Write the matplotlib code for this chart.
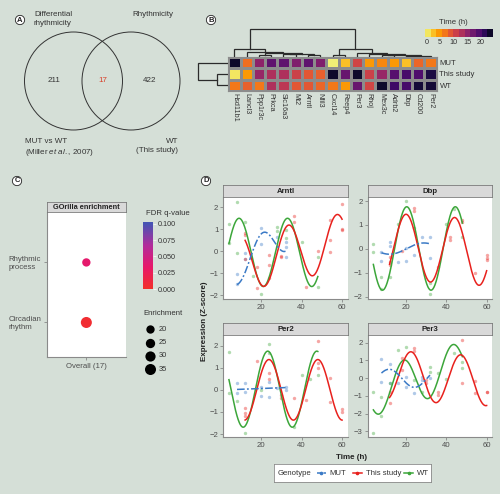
import numpy as np
import matplotlib
matplotlib.use('Agg')
import matplotlib.pyplot as plt
from matplotlib.patches import Circle
from matplotlib.colors import ListedColormap, LinearSegmentedColormap, Normalize

plt.rcParams['font.family'] = ['Liberation Sans', 'DejaVu Sans']
plt.rcParams['mathtext.fontset'] = 'custom'
plt.rcParams['mathtext.it'] = 'Liberation Sans:italic'
plt.rcParams['mathtext.rm'] = 'Liberation Sans'

W, H = 500, 494
BG = '#d5dfd7'
TXT = '#333333'
TICK = '#4d4d4d'

# ---- A: Venn counts (left only, overlap, right only)
venn_counts = [211, 17, 422]

# ---- B: peak time (h) per gene and group
genes = ['Hsd11b1', 'Lancl3', 'Ppp1r3c', 'Prkca', 'Slc16a3', 'Mt2', 'Arntl', 'Nfil3',
         'Cxcl14', 'Reep4', 'Per3', 'Rhoj', 'Mex3c', 'Adrb2', 'Dbp', 'Cd200', 'Per2']
groups = ['MUT', 'This study', 'WT']
peak_mut = [23, 7.5, 15, 18, 18, 16, 18, 16, 0.5, 3, 10.5, 5, 6, 5, 3, 8, 7]
peak_this = [1, 5, 14.5, 13, 13, 11, 9, 8.5, 23, 17.5, 23, 11, 14.5, 18.5, 19.5, 19, 22]
peak_wt = [7, 8.5, 7, 13, 12, 9, 9, 8, 7, 5, 17.5, 10.5, 23, 20, 19.5, 22.5, 22.5]
# dendrogram merges (child a, child b, height); new nodes numbered after leaves
col_merges = [(4, 5, 0.10), (6, 7, 0.07), (2, 3, 0.08), (17, 18, 0.12), (19, 20, 0.14),
              (1, 21, 0.17), (0, 22, 0.28), (8, 9, 0.08), (14, 15, 0.04), (25, 16, 0.06),
              (12, 13, 0.07), (27, 26, 0.09), (11, 28, 0.11), (10, 29, 0.15), (24, 30, 0.28),
              (23, 31, 1.0)]
row_merges = [(1, 2, 0.37), (0, 3, 1.0)]

# ---- C: GOrilla enrichment
go_terms = ['Circadian\nrhythm', 'Rhythmic\nprocess']
go_fdr = [0.004, 0.035]
go_enrich = [35, 20]
enrich_legend = [20, 25, 30, 35]

# ---- D: expression (Z-score) points, (time, value)
arntl_mut = [(8, -1.03), (8, -1.5), (12, -0.09), (12, -0.35), (20, 1.05), (20, 0.32),
             (28, 0.67), (32, 0.44), (32, -0.24), (32, 0.21)]
arntl_this = [(12, 0.82), (12, 0.74), (12, -0.35), (18, -0.7), (18, -1.68), (24, -0.17),
              (24, -0.62), (24, -1.23), (30, -0.21), (30, -0.26), (36, 1.62), (36, 1.35),
              (42, -1.64), (48, 0.0), (54, 1.42), (54, 0.51), (54, -0.05), (60, 2.14),
              (60, 1.0), (60, 0.95)]
arntl_wt = [(4, 1.23), (4, 0.36), (8, 2.26), (8, -0.06), (12, 1.35), (16, -1.1),
            (20, -1.96), (28, 1.12), (28, 0.9), (32, 0.6), (32, 0.97), (40, 0.41),
            (48, -0.24), (48, -1.6)]
dbp_mut = [(8, -0.5), (8, -0.14), (12, 0.31), (12, 0.14), (16, -0.53), (20, -0.49),
           (20, 0.06), (24, -0.25), (28, 0.51), (32, 0.51), (32, -0.39)]
dbp_this = [(12, -0.32), (12, -0.53), (12, -0.67), (18, -0.1), (24, 1.69), (24, 1.58),
            (36, -0.74), (42, 0.51), (42, 0.38), (48, 1.21), (48, 1.14), (54, -1.01),
            (60, -0.25), (60, -0.36), (60, -0.45)]
dbp_wt = [(4, 0.2), (4, -0.14), (8, -1.15), (8, -1.68), (12, -1.15), (16, 1.03),
          (20, 2.0), (24, 0.86), (32, -1.87), (32, -1.43), (40, 1.03), (44, 1.67),
          (48, 0.51)]
per2_mut = [(8, 0.3), (8, -0.16), (12, 0.32), (12, -0.08), (20, 0.14), (20, -0.28),
            (24, 0.37), (24, -0.31), (28, 0.07), (32, 0.14), (32, 0.0)]
per2_this = [(12, -0.84), (12, -1.03), (12, -1.2), (18, 1.32), (24, 0.78), (24, 0.5),
             (30, -0.23), (30, -0.35), (36, -0.38), (42, -0.46), (48, 2.21), (48, 1.2),
             (48, 1.0), (54, 0.52), (54, -0.54), (60, -0.88), (60, -0.99)]
per2_wt = [(4, 1.7), (4, -0.16), (8, -0.49), (12, -1.97), (20, 0.0), (24, 2.08),
           (24, 1.65), (36, -1.7), (40, 0.67), (44, 0.48), (48, 0.67)]
per3_mut = [(8, 1.08), (8, -0.2), (12, 0.8), (12, -0.29), (16, -0.29), (20, 0.08),
            (20, -0.48), (24, -0.82), (28, 0.08), (28, -0.1), (32, -0.01)]
per3_this = [(12, -0.76), (12, -1.42), (18, 1.12), (18, 0.46), (24, 1.68), (24, 1.53),
             (30, -0.11), (30, -0.29), (36, -0.76), (36, -0.95), (48, 2.15), (48, -0.29),
             (54, -0.16), (54, -0.86), (60, -0.76), (60, -0.8)]
per3_wt = [(4, -0.76), (4, -3.11), (8, -1.05), (8, -2.14), (12, -0.29), (16, 1.59),
           (20, 1.77), (24, -0.11), (28, -0.76), (32, 0.61), (32, 0.36), (36, 0.27),
           (40, -0.07), (44, 1.4), (48, 0.93), (48, 0.55)]

# fitted rhythms: (mesor, trend per h, amplitude, acrophase h, period h, start h, end h)
fit_arntl = {'MUT': (-1.24, 0.063, 0.78, 20.5, 24, 8, 32),
             'This study': (-0.75, 0.02, 1.27, 33.5, 24, 12, 60),
             'WT': (-0.05, 0.0, 1.55, 9.0, 24, 4, 48)}
fit_dbp = {'MUT': (0.015, 0.0, 0.235, 29.0, 34, 8, 32),
           'This study': (0.18, -0.0056, 1.38, 20.2, 24, 12, 60),
           'WT': (0.02, 0.0, 1.74, 20.5, 24, 4, 48)}
fit_per2 = {'MUT': (-0.01, 0.0035, 0.0, 20.0, 24, 8, 32),
            'This study': (0.0, 0.0, 1.37, 23.8, 24.2, 12, 60),
            'WT': (0.03, 0.0, 1.72, 23.2, 24.3, 4, 48)}
fit_per3 = {'MUT': (-0.01, 0.0, 0.51, 11.8, 25, 8, 32),
            'This study': (0.25, -0.0069, 1.39, 22.6, 24.6, 12, 60),
            'WT': (-0.97, 0.036, 1.3, 19.0, 24.3, 4, 48)}

geno_colors = {'MUT': '#3b7ac6', 'This study': '#e8211d', 'WT': '#3ca63a'}

fig = plt.figure(figsize=(W / 100, H / 100), dpi=100, facecolor=BG)


def px_axes(x0, y0, x1, y1):
    return fig.add_axes([x0 / W, 1 - y1 / H, (x1 - x0) / W, (y1 - y0) / H])


def panel_letter(x, y, s):
    fig.text(x / W, 1 - y / H, s, ha='center', va='center', fontsize=5.5, fontweight='bold',
             color='#222222',
             bbox=dict(boxstyle='circle,pad=0.15', fc='white', ec='#222222', lw=0.6))


# ================= A: Venn
axA = px_axes(0, 0, 200, 170)
axA.set_xlim(0, 200)
axA.set_ylim(170, 0)
axA.axis('off')
axA.add_patch(Circle((73.5, 81), 49, fill=False, ec='#333333', lw=0.7))
axA.add_patch(Circle((131, 81), 49, fill=False, ec='#333333', lw=0.7))
axA.text(54, 80, str(venn_counts[0]), ha='center', va='center', fontsize=5.8, color=TXT)
axA.text(103, 80, str(venn_counts[1]), ha='center', va='center', fontsize=5.8, color='#d8402a')
axA.text(150, 80, str(venn_counts[2]), ha='center', va='center', fontsize=5.8, color=TXT)
axA.text(34, 11.5, 'Differential\nrhythmicity', ha='left', va='top', fontsize=5.8, color=TXT,
         linespacing=1.3)
axA.text(132.5, 11.5, 'Rhythmicity', ha='left', va='top', fontsize=5.8, color=TXT)
axA.text(25, 138, 'MUT vs WT\n(Miller $\\mathit{et\\ al.}$, 2007)', ha='left', va='top',
         fontsize=5.8, color=TXT, linespacing=1.35)
axA.text(178, 138, 'WT\n(This study)', ha='right', va='top', fontsize=5.8, color=TXT,
         multialignment='right', linespacing=1.35)
panel_letter(20, 20, 'A')

# ================= B: heatmap + dendrograms
cmap_t = ListedColormap(plt.cm.inferno(np.linspace(0.97, 0.04, 256)))
norm_t = Normalize(0, 24)
mat = np.array([peak_mut, peak_this, peak_wt])

axH = px_axes(228.3, 57.3, 436.7, 90.7)
axH.pcolormesh(mat, cmap=cmap_t, norm=norm_t, edgecolors='#8c8c8c', linewidth=0.8)
axH.set_xlim(0, len(genes))
axH.set_ylim(len(groups), 0)
axH.set_xticks(np.arange(len(genes)) + 0.5)
axH.set_xticklabels(genes, rotation=-90, fontsize=5.2, color=TXT)
axH.set_yticks(np.arange(len(groups)) + 0.5)
axH.set_yticklabels(groups, fontsize=5.6, color=TXT)
axH.yaxis.tick_right()
axH.tick_params(length=0, pad=2)
for s in axH.spines.values():
    s.set_color('#8c8c8c')
    s.set_linewidth(0.8)


def draw_dendro(ax, merges, n_leaves, horizontal):
    pos = {i: (i + 0.5, 0.0) for i in range(n_leaves)}
    for k, (a, b, h) in enumerate(merges):
        xa, ha = pos[a]
        xb, hb = pos[b]
        if horizontal:
            ax.plot([ha, h, h, hb], [xa, xa, xb, xb], color='#2b2b2b', lw=0.9,
                    solid_joinstyle='miter')
        else:
            ax.plot([xa, xa, xb, xb], [ha, h, h, hb], color='#2b2b2b', lw=0.9,
                    solid_joinstyle='miter')
        pos[n_leaves + k] = ((xa + xb) / 2, h)


axDc = px_axes(228.3, 28, 436.7, 57.3)
draw_dendro(axDc, col_merges, len(genes), False)
axDc.set_xlim(0, len(genes))
axDc.set_ylim(0, 1.02)
axDc.axis('off')

axDr = px_axes(197, 57.3, 228.3, 90.7)
draw_dendro(axDr, row_merges, len(groups), True)
axDr.set_xlim(1.02, 0)
axDr.set_ylim(len(groups), 0)
axDr.axis('off')

axCB = px_axes(425, 29.3, 492.7, 37.3)
axCB.imshow((np.arange(12) * 2 + 1)[None, :], cmap=cmap_t, norm=norm_t, aspect='auto',
            extent=(-0.6, 24.4, 0, 1))
axCB.set_xlim(-0.6, 24.4)
axCB.set_yticks([])
axCB.set_xticks([0, 5, 10, 15, 20])
axCB.tick_params(axis='x', length=0, pad=1.5, labelsize=5.2, labelcolor=TXT)
for s in axCB.spines.values():
    s.set_visible(False)
fig.text(439 / W, 1 - 22 / H, 'Time (h)', ha='left', va='center', fontsize=5.6, color=TXT)
panel_letter(211, 20, 'B')

# ================= C: GO enrichment bubble
cmap_q = LinearSegmentedColormap.from_list('q', ['#f2302a', '#e8186a', '#b22c9c', '#4754b4'])
axC = px_axes(46.7, 212, 126, 357.3)
axC.set_facecolor('white')
axC.scatter([1] * len(go_terms), np.arange(1, len(go_terms) + 1),
            s=np.array(go_enrich) * 1.8, c=go_fdr, cmap=cmap_q, vmin=0, vmax=0.1,
            linewidths=0, zorder=3)
axC.set_xlim(0.4, 1.6)
axC.set_ylim(0.42, 2.84)
axC.set_yticks(np.arange(1, len(go_terms) + 1))
axC.set_yticklabels(go_terms, fontsize=5.6, color=TICK, multialignment='left')
axC.set_xticks([1])
axC.set_xticklabels(['Overall (17)'], fontsize=5.6, color=TICK)
axC.tick_params(length=2, width=0.5, color='#777777', pad=2)
for side in ('top', 'right'):
    axC.spines[side].set_visible(False)
for side in ('left', 'bottom'):
    axC.spines[side].set_color('#8a8a8a')
    axC.spines[side].set_linewidth(0.8)

axCs = px_axes(46.7, 201.7, 126, 212)
axCs.set_facecolor('#d9d9d9')
axCs.set_xticks([])
axCs.set_yticks([])
for s in axCs.spines.values():
    s.set_color('#7a7a7a')
    s.set_linewidth(0.6)
axCs.text(0.5, 0.48, 'GOrilla enrichment', ha='center', va='center', fontsize=5.3,
          fontweight='bold', color='#222222', transform=axCs.transAxes)

axQ = px_axes(142.7, 221.7, 152.7, 289)
axQ.imshow(np.linspace(0, 0.1035, 100)[:, None], cmap=cmap_q, vmin=0, vmax=0.1,
           aspect='auto', origin='lower', extent=(0, 1, 0, 0.1035))
axQ.set_ylim(0, 0.1035)
axQ.set_xticks([])
axQ.yaxis.tick_right()
axQ.set_yticks([0, 0.025, 0.05, 0.075, 0.1])
axQ.set_yticklabels(['0.000', '0.025', '0.050', '0.075', '0.100'])
axQ.tick_params(axis='y', length=2, width=0.5, color='white', pad=1.5, labelsize=5.2,
                labelcolor=TXT)
for s in axQ.spines.values():
    s.set_visible(False)
fig.text(146 / W, 1 - 213 / H, 'FDR q-value', ha='left', va='center', fontsize=5.6, color=TXT)

axE = px_axes(140, 320, 200, 376)
axE.set_xlim(140, 200)
axE.set_ylim(376, 320)
axE.axis('off')
fig.text(143 / W, 1 - 313.5 / H, 'Enrichment', ha='left', va='center', fontsize=5.6, color=TXT)
for i, e in enumerate(enrich_legend):
    yy = 329.3 + i * 13.3
    axE.scatter([150], [yy], s=e * 1.8, color='black', linewidths=0)
    axE.text(159, yy, str(e), ha='left', va='center', fontsize=5.4, color=TXT)
panel_letter(17, 181, 'C')

# ================= D: time courses
facets = [('Arntl', arntl_mut, arntl_this, arntl_wt, fit_arntl, (223.3, 196.7, 347.7, 299.3),
           (-2.18, 2.48), [-2, -1, 0, 1, 2]),
          ('Dbp', dbp_mut, dbp_this, dbp_wt, fit_dbp, (367.7, 196.7, 492.3, 299.3),
           (-2.1, 2.18), [-2, -1, 0, 1, 2]),
          ('Per2', per2_mut, per2_this, per2_wt, fit_per2, (223.3, 335, 347.7, 436.7),
           (-2.12, 2.48), [-2, -1, 0, 1, 2]),
          ('Per3', per3_mut, per3_this, per3_wt, fit_per3, (367.7, 335, 492.3, 436.7),
           (-3.3, 2.43), [-3, -2, -1, 0, 1, 2])]

for name, pm, pt, pw, fit, box, ylim, yt in facets:
    x0, y0, x1, y1 = box
    ax = px_axes(x0, y0, x1, y1)
    ax.set_facecolor('white')
    for geno, pts in (('MUT', pm), ('This study', pt), ('WT', pw)):
        arr = np.array(pts)
        ax.scatter(arr[:, 0], arr[:, 1], s=6, color=geno_colors[geno], alpha=0.4,
                   linewidths=0, zorder=2)
    for geno in ('WT', 'This study', 'MUT'):
        m0, m1, amp, phi, per, t0, t1 = fit[geno]
        t = np.linspace(t0, t1, 300)
        y = m0 + m1 * t + amp * np.cos(2 * np.pi * (t - phi) / per)
        ls = (0, (5, 1.5, 1.2, 1.5)) if geno == 'MUT' else '-'
        ax.plot(t, y, color=geno_colors[geno], lw=1.1, ls=ls, zorder=3)
    ax.set_xlim(1.2, 62.8)
    ax.set_ylim(*ylim)
    ax.set_xticks([20, 40, 60])
    ax.set_yticks(yt)
    ax.tick_params(length=2, width=0.5, color='#777777', pad=1.5, labelsize=5.6,
                   labelcolor=TICK)
    for side in ('top', 'right'):
        ax.spines[side].set_visible(False)
    for side in ('left', 'bottom'):
        ax.spines[side].set_color('#8a8a8a')
        ax.spines[side].set_linewidth(0.8)
    axs = px_axes(x0, y0 - 11.7, x1, y0)
    axs.set_facecolor('#d9d9d9')
    axs.set_xticks([])
    axs.set_yticks([])
    for s in axs.spines.values():
        s.set_color('#7a7a7a')
        s.set_linewidth(0.6)
    axs.text(0.5, 0.45, name, ha='center', va='center', fontsize=5.6, fontweight='bold',
             color='#222222', transform=axs.transAxes)

fig.text(352 / W, 1 - 457 / H, 'Time (h)', ha='center', va='center', fontsize=5.8,
         fontweight='bold', color='#222222')
fig.text(204 / W, 1 - 321 / H, 'Expression (Z-score)', ha='center', va='center', fontsize=5.8,
         fontweight='bold', color='#222222', rotation=90)

axL = px_axes(274, 464.3, 431, 481.7)
axL.set_facecolor('white')
axL.set_xlim(274, 431)
axL.set_ylim(481.7, 464.3)
axL.set_xticks([])
axL.set_yticks([])
for s in axL.spines.values():
    s.set_color('#8a8a8a')
    s.set_linewidth(0.6)
axL.text(277.5, 473, 'Genotype', ha='left', va='center', fontsize=5.6, color=TXT)
for (sx, lx, geno) in ((316.5, 329, 'MUT'), (352.5, 365.5, 'This study'), (404, 417, 'WT')):
    ls = (0, (3, 1.2)) if geno == 'MUT' else '-'
    axL.plot([sx, sx + 9], [473, 473], color=geno_colors[geno], lw=1.1, ls=ls)
    axL.plot([sx + 4.5], [473], 'o', color=geno_colors[geno], ms=1.6)
    axL.text(lx, 473, geno, ha='left', va='center', fontsize=5.6, color=TXT)
panel_letter(206, 181, 'D')

fig.savefig('out.png', dpi=100, facecolor=BG)
